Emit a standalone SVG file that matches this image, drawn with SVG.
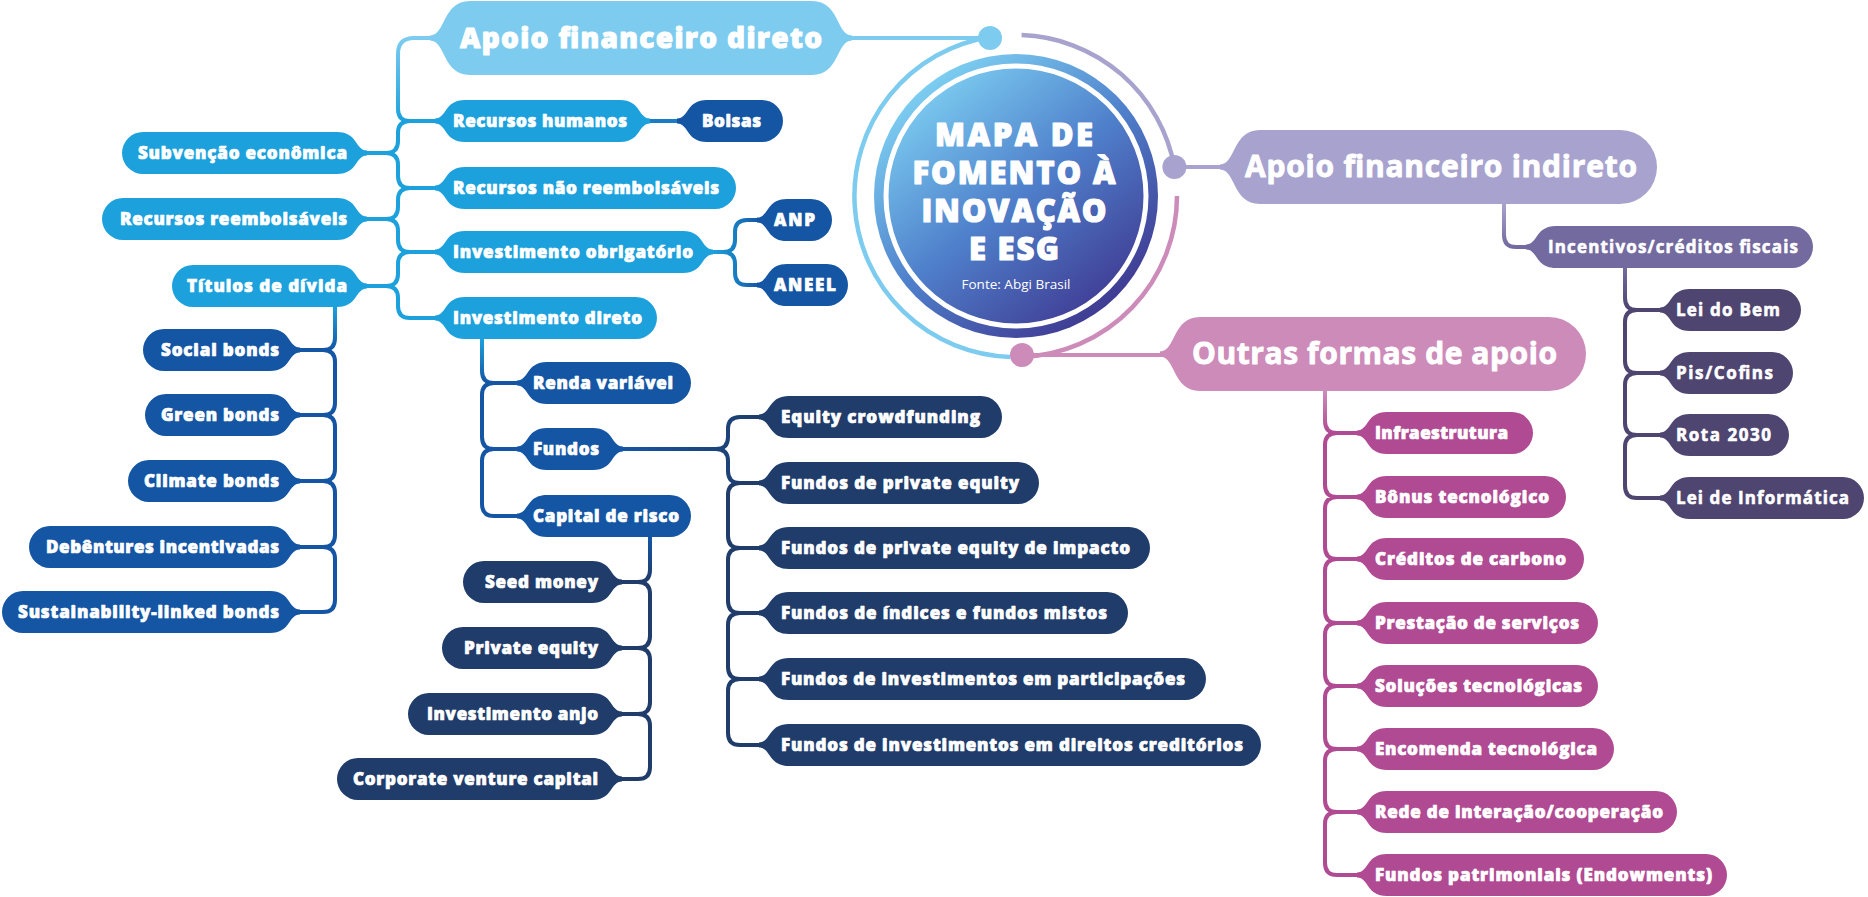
<svg xmlns="http://www.w3.org/2000/svg" width="1868" height="897" viewBox="0 0 1868 897">
<defs>
<style>
.c{fill:none;stroke-width:4;stroke-linecap:round;stroke-linejoin:round}
.t,.tb,.big,.bigc,.ctr{font-family:"Open Sans","Liberation Sans",sans-serif;fill:#fff;stroke:#fff;stroke-linejoin:round}
.t{font-weight:800;font-size:17px;stroke-width:0.7px}
.tb{font-weight:700;font-size:17px;stroke-width:0.6px}
.big{font-weight:800;font-size:28px;stroke-width:1px}
.bigc{font-weight:700;font-size:30px;stroke-width:0.9px}
.ctr{font-weight:800;font-size:31px;stroke-width:1.1px}
.src{font-family:"Open Sans","Liberation Sans",sans-serif;font-weight:400;font-size:13.5px;fill:#fff}
.sky{fill:#7dccf0}.mb{fill:#1ca1dc}.db{fill:#1556a4}.nv{fill:#1f3c6a}
.lv{fill:#a8a3ce}.pu{fill:#736a9f}.dp{fill:#4e4670}
.pk{fill:#cd8bba}.mg{fill:#b04a92}
</style>
<linearGradient id="disc" x1="0.18" y1="0.1" x2="0.82" y2="0.9">
<stop offset="0" stop-color="#7dcff2"/><stop offset="0.5" stop-color="#4f80cb"/><stop offset="1" stop-color="#3f3a92"/>
</linearGradient>
<linearGradient id="gTop" gradientUnits="userSpaceOnUse" x1="0" y1="38" x2="0" y2="121"><stop offset="0" stop-color="#7dccf0"/><stop offset="1" stop-color="#1ca1dc"/></linearGradient>
<linearGradient id="gTit" gradientUnits="userSpaceOnUse" x1="0" y1="307" x2="0" y2="350"><stop offset="0" stop-color="#1ca1dc"/><stop offset="1" stop-color="#1556a4"/></linearGradient>
<linearGradient id="gInv" gradientUnits="userSpaceOnUse" x1="0" y1="339" x2="0" y2="383"><stop offset="0" stop-color="#1ca1dc"/><stop offset="1" stop-color="#1556a4"/></linearGradient>
<linearGradient id="gCap" gradientUnits="userSpaceOnUse" x1="0" y1="537" x2="0" y2="582"><stop offset="0" stop-color="#1556a4"/><stop offset="1" stop-color="#1f3c6a"/></linearGradient>
<linearGradient id="gFun" gradientUnits="userSpaceOnUse" x1="623" y1="0" x2="760" y2="0"><stop offset="0" stop-color="#1556a4"/><stop offset="1" stop-color="#1f3c6a"/></linearGradient>
<linearGradient id="gObr" gradientUnits="userSpaceOnUse" x1="713" y1="0" x2="760" y2="0"><stop offset="0" stop-color="#1ca1dc"/><stop offset="1" stop-color="#1556a4"/></linearGradient>
<linearGradient id="gInd" gradientUnits="userSpaceOnUse" x1="0" y1="204" x2="0" y2="247"><stop offset="0" stop-color="#a8a3ce"/><stop offset="1" stop-color="#736a9f"/></linearGradient>
<linearGradient id="gInc" gradientUnits="userSpaceOnUse" x1="0" y1="268" x2="0" y2="310"><stop offset="0" stop-color="#736a9f"/><stop offset="1" stop-color="#4e4670"/></linearGradient>
<linearGradient id="gOut" gradientUnits="userSpaceOnUse" x1="0" y1="391" x2="0" y2="433"><stop offset="0" stop-color="#cd8bba"/><stop offset="1" stop-color="#b04a92"/></linearGradient>
</defs>
<rect width="1868" height="897" fill="#fff"/>

<g id="connectors">
<path class="c" stroke="#7dccf0" d="M852,38 H990"/>
<path class="c" stroke="#a8a3ce" d="M1174,167 H1222"/>
<path class="c" stroke="#cd8bba" d="M1022,355 H1162"/>
<path class="c" stroke="url(#gTop)" d="M432,38 H414 Q398,38 398,54 V109 Q398,121 410,121 H437"/>
<path class="c" stroke="#1ca1dc" d="M437,121 H410 Q398,121 398,133 V141 Q398,153 386,153 H365 M386,153 Q398,153 398,165 V176 Q398,188 410,188 H437"/>
<path class="c" stroke="#1ca1dc" d="M437,188 H410 Q398,188 398,200 V207 Q398,219 386,219 H365 M386,219 Q398,219 398,231 V240 Q398,252 410,252 H437"/>
<path class="c" stroke="#1ca1dc" d="M437,252 H410 Q398,252 398,264 V274 Q398,286 386,286 H365 M386,286 Q398,286 398,298 V306 Q398,318 410,318 H437"/>
<path class="c" stroke="#1a7cc4" d="M648,121 H679"/>
<path class="c" stroke="url(#gObr)" d="M711,252 H723 Q735,252 735,240 V232 Q735,220 747,220 H759 M723,252 Q735,252 735,264 V273 Q735,285 747,285 H759"/>
<path class="c" stroke="url(#gTit)" d="M335,305 V338 Q335,350 323,350 H298"/>
<path class="c" stroke="#1556a4" d="M298,350 H323 Q335,350 335,362 V403 Q335,415 323,415 H298 M298,415 H323 Q335,415 335,427 V469 Q335,481 323,481 H298 M298,481 H323 Q335,481 335,493 V535 Q335,547 323,547 H298 M298,547 H323 Q335,547 335,559 V600 Q335,612 323,612 H298"/>
<path class="c" stroke="url(#gInv)" d="M482,337 V371 Q482,383 494,383 H519"/>
<path class="c" stroke="#1556a4" d="M519,383 H494 Q482,383 482,395 V437 Q482,449 494,449 H519 M519,449 H494 Q482,449 482,461 V504 Q482,516 494,516 H519"/>
<path class="c" stroke="url(#gCap)" d="M650,535 V570 Q650,582 638,582 H620"/>
<path class="c" stroke="#1f3c6a" d="M620,582 H638 Q650,582 650,594 V636 Q650,648 638,648 H620 M620,648 H638 Q650,648 650,660 V702 Q650,714 638,714 H620 M620,714 H638 Q650,714 650,726 V767 Q650,779 638,779 H620"/>
<path class="c" stroke="url(#gFun)" d="M621,449 H716 Q728,449 728,437 V429 Q728,417 740,417 H761 M716,449 Q728,449 728,461 V471 Q728,483 740,483 H761"/>
<path class="c" stroke="#1f3c6a" d="M761,483 H740 Q728,483 728,495 V536 Q728,548 740,548 H761 M761,548 H740 Q728,548 728,560 V601 Q728,613 740,613 H761 M761,613 H740 Q728,613 728,625 V667 Q728,679 740,679 H761 M761,679 H740 Q728,679 728,691 V733 Q728,745 740,745 H761"/>
<path class="c" stroke="url(#gInd)" d="M1504,202 V235 Q1504,247 1516,247 H1528"/>
<path class="c" stroke="url(#gInc)" d="M1625,266 V298 Q1625,310 1637,310 H1662"/>
<path class="c" stroke="#4e4670" d="M1662,310 H1637 Q1625,310 1625,322 V361 Q1625,373 1637,373 H1662 M1662,373 H1637 Q1625,373 1625,385 V423 Q1625,435 1637,435 H1662 M1662,435 H1637 Q1625,435 1625,447 V486 Q1625,498 1637,498 H1662"/>
<path class="c" stroke="url(#gOut)" d="M1325,389 V421 Q1325,433 1337,433 H1359"/>
<path class="c" stroke="#b04a92" d="M1359,433 H1337 Q1325,433 1325,445 V485 Q1325,497 1337,497 H1359 M1359,497 H1337 Q1325,497 1325,509 V547 Q1325,559 1337,559 H1359 M1359,559 H1337 Q1325,559 1325,571 V611 Q1325,623 1337,623 H1359 M1359,623 H1337 Q1325,623 1325,635 V674 Q1325,686 1337,686 H1359 M1359,686 H1337 Q1325,686 1325,698 V737 Q1325,749 1337,749 H1359 M1359,749 H1337 Q1325,749 1325,761 V800 Q1325,812 1337,812 H1359 M1359,812 H1337 Q1325,812 1325,824 V863 Q1325,875 1337,875 H1359"/>
</g>

<g id="center">
<path fill="none" stroke="#7dccf0" stroke-width="4.5" d="M990,37 A161,161 0 0 0 1010.4,356.9"/>
<path fill="none" stroke="#a8a3ce" stroke-width="4.5" d="M1021.6,35.1 A161,161 0 0 1 1174.4,167.1"/>
<path fill="none" stroke="#cd8bba" stroke-width="4.5" d="M1177,196 A161,161 0 0 1 1022.2,356.9"/>
<circle cx="990" cy="38" r="12" fill="#7dccf0"/>
<circle cx="1174.4" cy="167" r="12" fill="#a8a3ce"/>
<circle cx="1022" cy="355" r="12" fill="#cd8bba"/>
<circle cx="1016" cy="196" r="142" fill="url(#disc)"/>
<circle cx="1016" cy="196" r="130" fill="none" stroke="#fff" stroke-width="5"/>
<text class="ctr" x="1014" y="146" text-anchor="middle" textLength="158">MAPA DE</text>
<text class="ctr" x="1014" y="184" text-anchor="middle" textLength="203">FOMENTO À</text>
<text class="ctr" x="1014" y="222" text-anchor="middle" textLength="185">INOVAÇÃO</text>
<text class="ctr" x="1014" y="260" text-anchor="middle" textLength="90">E ESG</text>
<text class="src" x="1016" y="289" text-anchor="middle" textLength="109">Fonte: Abgi Brasil</text>
</g>

<g id="n-apoio-direto"><path class="sky" d="M430,35.5 c16,0 12,-34.5 40,-34.5 h342 c28,0 24,34.5 40,34.5 v5 c-16,0 -12,34.5 -40,34.5 h-342 c-28,0 -24,-34.5 -40,-34.5z"/><text class="big" x="460" y="48" textLength="362">Apoio financeiro direto</text></g>
<g id="n-apoio-indireto"><path class="lv" d="M1220,164.5 c16,0 12,-34.5 40,-34.5 h360 a37,37 0 0 1 0,74 h-360 c-28,0 -24,-34.5 -40,-34.5z"/><text class="bigc" x="1245" y="177" textLength="392">Apoio financeiro indireto</text></g>
<g id="n-outras"><path class="pk" d="M1160,351.5 c16,0 12,-34.5 40,-34.5 h349 a37,37 0 0 1 0,74 h-349 c-28,0 -24,-34.5 -40,-34.5z"/><text class="bigc" x="1192" y="364" textLength="365">Outras formas de apoio</text></g>

<g id="n-rh"><path class="mb" d="M435,118.5 c12,0 9,-18.5 30,-18.5 h155 c21,0 18,18.5 30,18.5 v5 c-12,0 -9,18.5 -30,18.5 h-155 c-21,0 -18,-18.5 -30,-18.5z"/><text class="t" x="453" y="127" textLength="174">Recursos humanos</text></g>
<g id="n-bolsas"><path class="db" d="M677,118.5 c12,0 9,-18.5 30,-18.5 h55 a21,21 0 0 1 0,42 h-55 c-21,0 -18,-18.5 -30,-18.5z"/><text class="t" x="702" y="127" textLength="59">Bolsas</text></g>
<g id="n-rnr"><path class="mb" d="M435,185.5 c12,0 9,-18.5 30,-18.5 h250 a21,21 0 0 1 0,42 h-250 c-21,0 -18,-18.5 -30,-18.5z"/><text class="t" x="453" y="194" textLength="266">Recursos não reembolsáveis</text></g>
<g id="n-io"><path class="mb" d="M435,249.5 c12,0 9,-18.5 30,-18.5 h218 c21,0 18,18.5 30,18.5 v5 c-12,0 -9,18.5 -30,18.5 h-218 c-21,0 -18,-18.5 -30,-18.5z"/><text class="t" x="453" y="258" textLength="240">Investimento obrigatório</text></g>
<g id="n-anp"><path class="db" d="M757,217.5 c12,0 9,-18.5 30,-18.5 h24 a21,21 0 0 1 0,42 h-24 c-21,0 -18,-18.5 -30,-18.5z"/><text class="t" x="774" y="226" textLength="41">ANP</text></g>
<g id="n-aneel"><path class="db" d="M757,282.5 c12,0 9,-18.5 30,-18.5 h40 a21,21 0 0 1 0,42 h-40 c-21,0 -18,-18.5 -30,-18.5z"/><text class="t" x="774" y="291" textLength="62">ANEEL</text></g>
<g id="n-id"><path class="mb" d="M435,315.5 c12,0 9,-18.5 30,-18.5 h171 a21,21 0 0 1 0,42 h-171 c-21,0 -18,-18.5 -30,-18.5z"/><text class="t" x="453" y="324" textLength="189">Investimento direto</text></g>

<g id="n-sub"><path class="mb" d="M143,132 h194 c21,0 18,18.5 30,18.5 v5 c-12,0 -9,18.5 -30,18.5 h-194 a21,21 0 0 1 0,-42z"/><text class="t" x="138" y="159" textLength="209">Subvenção econômica</text></g>
<g id="n-rr"><path class="mb" d="M123,198 h214 c21,0 18,18.5 30,18.5 v5 c-12,0 -9,18.5 -30,18.5 h-214 a21,21 0 0 1 0,-42z"/><text class="t" x="120" y="225" textLength="227">Recursos reembolsáveis</text></g>
<g id="n-tit"><path class="mb" d="M193,265 h144 c21,0 18,18.5 30,18.5 v5 c-12,0 -9,18.5 -30,18.5 h-144 a21,21 0 0 1 0,-42z"/><text class="t" x="187" y="292" textLength="160">Títulos de dívida</text></g>
<g id="n-social"><path class="db" d="M164,329 h106 c21,0 18,18.5 30,18.5 v5 c-12,0 -9,18.5 -30,18.5 h-106 a21,21 0 0 1 0,-42z"/><text class="t" x="161" y="356" textLength="118">Social bonds</text></g>
<g id="n-green"><path class="db" d="M166,394 h104 c21,0 18,18.5 30,18.5 v5 c-12,0 -9,18.5 -30,18.5 h-104 a21,21 0 0 1 0,-42z"/><text class="t" x="161" y="421" textLength="118">Green bonds</text></g>
<g id="n-climate"><path class="db" d="M149,460 h121 c21,0 18,18.5 30,18.5 v5 c-12,0 -9,18.5 -30,18.5 h-121 a21,21 0 0 1 0,-42z"/><text class="t" x="144" y="487" textLength="135">Climate bonds</text></g>
<g id="n-deb"><path class="db" d="M50,526 h220 c21,0 18,18.5 30,18.5 v5 c-12,0 -9,18.5 -30,18.5 h-220 a21,21 0 0 1 0,-42z"/><text class="t" x="46" y="553" textLength="233">Debêntures incentivadas</text></g>
<g id="n-slb"><path class="db" d="M23,591 h247 c21,0 18,18.5 30,18.5 v5 c-12,0 -9,18.5 -30,18.5 h-247 a21,21 0 0 1 0,-42z"/><text class="t" x="18" y="618" textLength="261">Sustainability-linked bonds</text></g>

<g id="n-renda"><path class="db" d="M517,380.5 c12,0 9,-18.5 30,-18.5 h123 a21,21 0 0 1 0,42 h-123 c-21,0 -18,-18.5 -30,-18.5z"/><text class="t" x="533" y="389" textLength="140">Renda variável</text></g>
<g id="n-fundos"><path class="db" d="M517,446.5 c12,0 9,-18.5 30,-18.5 h46 c21,0 18,18.5 30,18.5 v5 c-12,0 -9,18.5 -30,18.5 h-46 c-21,0 -18,-18.5 -30,-18.5z"/><text class="t" x="533" y="455" textLength="66">Fundos</text></g>
<g id="n-capital"><path class="db" d="M517,513.5 c12,0 9,-18.5 30,-18.5 h123 a21,21 0 0 1 0,42 h-123 c-21,0 -18,-18.5 -30,-18.5z"/><text class="t" x="533" y="522" textLength="146">Capital de risco</text></g>

<g id="n-seed"><path class="nv" d="M484,561 h108 c21,0 18,18.5 30,18.5 v5 c-12,0 -9,18.5 -30,18.5 h-108 a21,21 0 0 1 0,-42z"/><text class="t" x="485" y="588" textLength="113">Seed money</text></g>
<g id="n-pe"><path class="nv" d="M463,627 h129 c21,0 18,18.5 30,18.5 v5 c-12,0 -9,18.5 -30,18.5 h-129 a21,21 0 0 1 0,-42z"/><text class="t" x="464" y="654" textLength="134">Private equity</text></g>
<g id="n-anjo"><path class="nv" d="M429,693 h163 c21,0 18,18.5 30,18.5 v5 c-12,0 -9,18.5 -30,18.5 h-163 a21,21 0 0 1 0,-42z"/><text class="t" x="427" y="720" textLength="171">Investimento anjo</text></g>
<g id="n-cvc"><path class="nv" d="M358,758 h234 c21,0 18,18.5 30,18.5 v5 c-12,0 -9,18.5 -30,18.5 h-234 a21,21 0 0 1 0,-42z"/><text class="t" x="353" y="785" textLength="245">Corporate venture capital</text></g>

<g id="n-ecf"><path class="nv" d="M759,414.5 c12,0 9,-18.5 30,-18.5 h192 a21,21 0 0 1 0,42 h-192 c-21,0 -18,-18.5 -30,-18.5z"/><text class="t" x="781" y="423" textLength="199">Equity crowdfunding</text></g>
<g id="n-fpe"><path class="nv" d="M759,480.5 c12,0 9,-18.5 30,-18.5 h229 a21,21 0 0 1 0,42 h-229 c-21,0 -18,-18.5 -30,-18.5z"/><text class="t" x="781" y="489" textLength="238">Fundos de private equity</text></g>
<g id="n-fpei"><path class="nv" d="M759,545.5 c12,0 9,-18.5 30,-18.5 h340 a21,21 0 0 1 0,42 h-340 c-21,0 -18,-18.5 -30,-18.5z"/><text class="t" x="781" y="554" textLength="349">Fundos de private equity de impacto</text></g>
<g id="n-fim"><path class="nv" d="M759,610.5 c12,0 9,-18.5 30,-18.5 h318 a21,21 0 0 1 0,42 h-318 c-21,0 -18,-18.5 -30,-18.5z"/><text class="t" x="781" y="619" textLength="326">Fundos de índices e fundos mistos</text></g>
<g id="n-fip"><path class="nv" d="M759,676.5 c12,0 9,-18.5 30,-18.5 h396 a21,21 0 0 1 0,42 h-396 c-21,0 -18,-18.5 -30,-18.5z"/><text class="t" x="781" y="685" textLength="404">Fundos de investimentos em participações</text></g>
<g id="n-fidc"><path class="nv" d="M759,742.5 c12,0 9,-18.5 30,-18.5 h451 a21,21 0 0 1 0,42 h-451 c-21,0 -18,-18.5 -30,-18.5z"/><text class="t" x="781" y="751" textLength="462">Fundos de investimentos em direitos creditórios</text></g>

<g id="n-incentivos"><path class="pu" d="M1526,244.5 c12,0 9,-18.5 30,-18.5 h236 a21,21 0 0 1 0,42 h-236 c-21,0 -18,-18.5 -30,-18.5z"/><text class="tb" x="1548" y="253" textLength="250">Incentivos/créditos fiscais</text></g>
<g id="n-leibem"><path class="dp" d="M1660,307.5 c12,0 9,-18.5 30,-18.5 h90 a21,21 0 0 1 0,42 h-90 c-21,0 -18,-18.5 -30,-18.5z"/><text class="tb" x="1676" y="316" textLength="104">Lei do Bem</text></g>
<g id="n-pis"><path class="dp" d="M1660,370.5 c12,0 9,-18.5 30,-18.5 h82 a21,21 0 0 1 0,42 h-82 c-21,0 -18,-18.5 -30,-18.5z"/><text class="tb" x="1676" y="379" textLength="97">Pis/Cofins</text></g>
<g id="n-rota"><path class="dp" d="M1660,432.5 c12,0 9,-18.5 30,-18.5 h78 a21,21 0 0 1 0,42 h-78 c-21,0 -18,-18.5 -30,-18.5z"/><text class="tb" x="1676" y="441" textLength="95">Rota 2030</text></g>
<g id="n-leiinf"><path class="dp" d="M1660,495.5 c12,0 9,-18.5 30,-18.5 h153 a21,21 0 0 1 0,42 h-153 c-21,0 -18,-18.5 -30,-18.5z"/><text class="tb" x="1676" y="504" textLength="173">Lei de Informática</text></g>

<g id="n-infra"><path class="mg" d="M1357,430.5 c12,0 9,-18.5 30,-18.5 h125 a21,21 0 0 1 0,42 h-125 c-21,0 -18,-18.5 -30,-18.5z"/><text class="t" x="1375" y="439" textLength="133">Infraestrutura</text></g>
<g id="n-bonus"><path class="mg" d="M1357,494.5 c12,0 9,-18.5 30,-18.5 h158 a21,21 0 0 1 0,42 h-158 c-21,0 -18,-18.5 -30,-18.5z"/><text class="t" x="1375" y="503" textLength="174">Bônus tecnológico</text></g>
<g id="n-creditos"><path class="mg" d="M1357,556.5 c12,0 9,-18.5 30,-18.5 h176 a21,21 0 0 1 0,42 h-176 c-21,0 -18,-18.5 -30,-18.5z"/><text class="t" x="1375" y="565" textLength="191">Créditos de carbono</text></g>
<g id="n-prest"><path class="mg" d="M1357,620.5 c12,0 9,-18.5 30,-18.5 h190 a21,21 0 0 1 0,42 h-190 c-21,0 -18,-18.5 -30,-18.5z"/><text class="t" x="1375" y="629" textLength="204">Prestação de serviços</text></g>
<g id="n-solu"><path class="mg" d="M1357,683.5 c12,0 9,-18.5 30,-18.5 h190 a21,21 0 0 1 0,42 h-190 c-21,0 -18,-18.5 -30,-18.5z"/><text class="t" x="1375" y="692" textLength="207">Soluções tecnológicas</text></g>
<g id="n-enc"><path class="mg" d="M1357,746.5 c12,0 9,-18.5 30,-18.5 h206 a21,21 0 0 1 0,42 h-206 c-21,0 -18,-18.5 -30,-18.5z"/><text class="t" x="1375" y="755" textLength="222">Encomenda tecnológica</text></g>
<g id="n-rede"><path class="mg" d="M1357,809.5 c12,0 9,-18.5 30,-18.5 h269 a21,21 0 0 1 0,42 h-269 c-21,0 -18,-18.5 -30,-18.5z"/><text class="t" x="1375" y="818" textLength="288">Rede de interação/cooperação</text></g>
<g id="n-fpat"><path class="mg" d="M1357,872.5 c12,0 9,-18.5 30,-18.5 h319 a21,21 0 0 1 0,42 h-319 c-21,0 -18,-18.5 -30,-18.5z"/><text class="t" x="1375" y="881" textLength="337">Fundos patrimoniais (Endowments)</text></g>
</svg>
